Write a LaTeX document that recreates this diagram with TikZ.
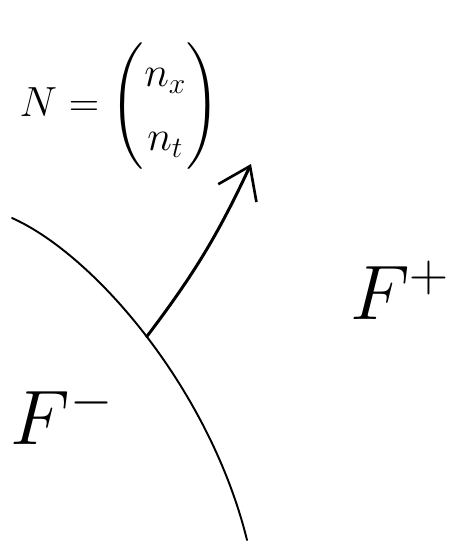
\RequirePackage{fix-cm}
\documentclass[tikz,border=0pt]{standalone}
\usepackage{amsmath,amssymb}
\usepackage{tikz}
\usetikzlibrary{arrows.meta,positioning,calc}
\tikzset{>=stealth}
\tikzset{
  sidelabel/.style={inner sep=0pt, font=\fontsize{44}{50}\selectfont},
  normlabel/.style={inner sep=0pt, font=\fontsize{24}{28}\selectfont},
  front/.style={line width=1.1pt, line cap=round},
  normal/.style={line width=1.7pt, line cap=round, -{Straight Barb[length=17pt,width=24pt,line width=1.5pt]}}
}

\begin{document}
\begin{tikzpicture}[x=0.02cm, y=-0.02cm]
			\useasboundingbox (0,0) rectangle (459,550);

			% the front separating the two states
			\coordinate (top) at (12,218);
			\coordinate (bot) at (247,540);
			\draw[front] (top) .. controls (95,255) and (210,390) .. (bot)
				coordinate[pos=0.5] (foot);

			% normal vector sticking out of the front
			\coordinate (tip) at (251,164);
			\draw[normal] (foot) to[bend right=6] (tip);

			% labels
			\node[normlabel, anchor=east] (vec) at (220,106) {$N=\renewcommand{\arraystretch}{1.3}\begin{pmatrix} n_x \\ n_t \end{pmatrix}$};
			\node[sidelabel] (minus) at (62,415) {$F^-$};
			\node[sidelabel] (plus) at (400,290) {$F^+$};
		\end{tikzpicture}
\end{document}
